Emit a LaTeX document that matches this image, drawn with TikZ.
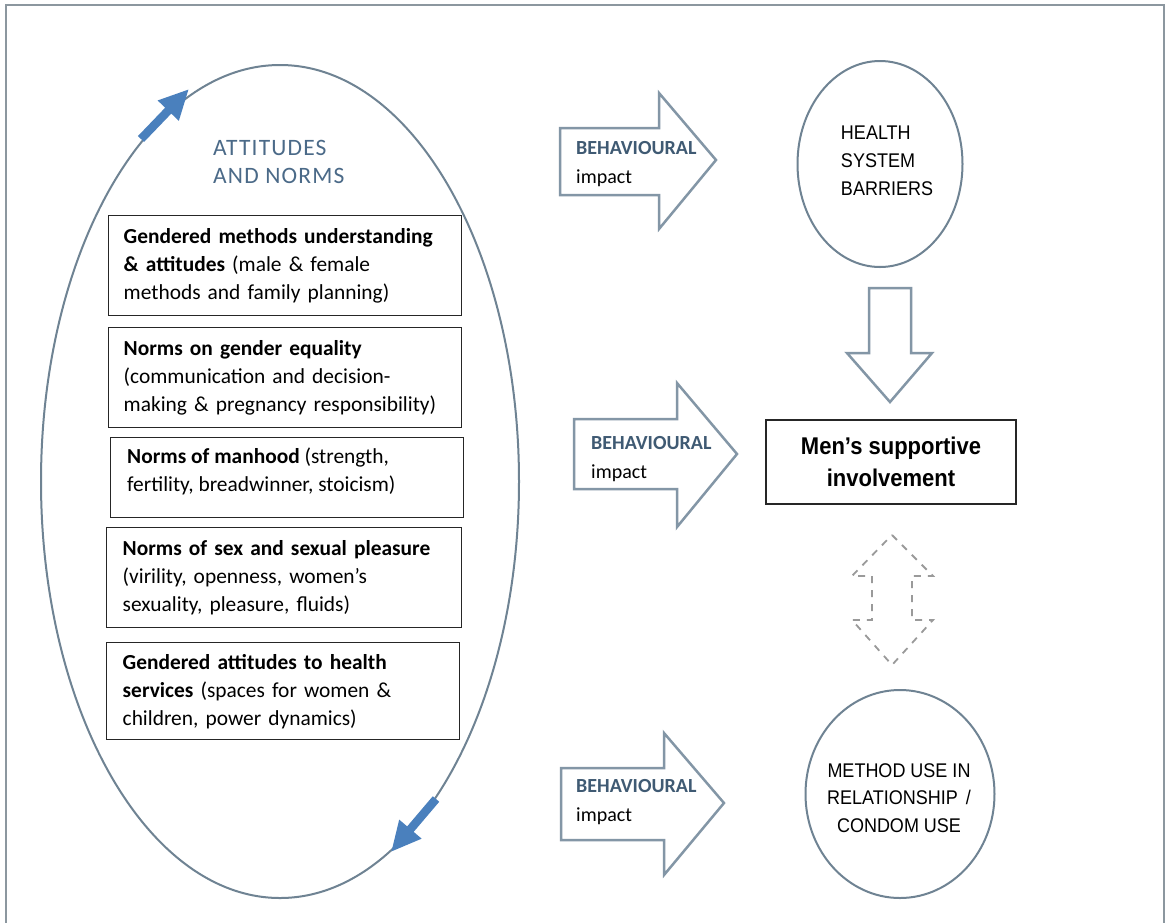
\documentclass[tikz,border=0pt]{standalone}
\usepackage{fontspec}
\setmainfont{Carlito}
\newfontfamily\arialf{Liberation Sans}
\usetikzlibrary{shapes.geometric,arrows.meta}
\definecolor{framec}{HTML}{8C979F}
\definecolor{ellc}{HTML}{6F8393}
\definecolor{blkc}{HTML}{8396A6}
\definecolor{bluec}{HTML}{4A80BD}
\definecolor{behc}{HTML}{3F5A73}
\definecolor{attc}{HTML}{4B6A88}
\definecolor{dashc}{HTML}{9A9A9A}
\newcommand{\vstretch}[1]{\scalebox{1}[1.1]{#1}}
\tikzset{
  normbox/.style={draw=black!85, line width=1.4pt, anchor=north west, inner xsep=15pt, inner ysep=0pt,
    text width=323pt, align=left, font=\fontsize{21.4pt}{28pt}\selectfont},
  blockarrow/.style={draw=blkc, line width=2.5pt, fill=white, line join=miter},
  behtext/.style={anchor=west, align=left, inner sep=0pt, font=\fontsize{20pt}{29pt}\selectfont},
  bluearrow/.style={draw=bluec, line width=8.5pt, -{Triangle[length=30pt,width=27pt]}},
  circnode/.style={ellipse, draw=ellc, line width=2pt, inner sep=0pt},
  captext/.style={align=center, inner sep=0pt, font=\arialf\fontsize{18pt}{28pt}\selectfont}
}
\begin{document}
\begin{tikzpicture}[x=1pt,y=-1pt]
\useasboundingbox (0,0) rectangle (1165,922);
\fill[white] (0,0) rectangle (1165,922);
% frame
\draw[framec, line width=2.5pt] (6,925) -- (6,5) -- (1164,5) -- (1164,925);

% big ellipse
\node[circnode, minimum width=478pt, minimum height=833pt] (cycle) at (280,481.5) {};
\coordinate (ua) at (141,139);
\coordinate (ub) at (189,89);
\coordinate (la) at (436,799);
\coordinate (lb) at (391,852);
\draw[bluearrow] (ua) -- (ub);
\draw[bluearrow] (la) -- (lb);

\node[anchor=west, align=left, inner sep=0pt, text=attc,
  font=\addfontfeature{LetterSpace=5}\fontsize{23.5pt}{28pt}\selectfont] (att) at (213,162) {ATTITUDES\\AND NORMS};

% norm boxes
\node[normbox, minimum height=100pt] (b1) at (108,215)
 {\textbf{Gendered methods understanding}\\\textbf{\& attitudes} (male \& female\\methods and family planning)};
\node[normbox, minimum height=100pt] (b2) at (108,327)
 {\textbf{Norms on gender equality}\\(communication and decision-\\making \& pregnancy responsibility)};
\node[normbox, minimum height=80pt, text width=323pt] (b3) at (110,437) {};
\node[anchor=west, align=left, inner sep=0pt, font=\fontsize{21.4pt}{28pt}\selectfont] (b3t) at (127,471)
 {\textbf{Norms of manhood} (strength,\\fertility, breadwinner, stoicism)};
\node[normbox, minimum height=100pt, inner xsep=16pt, text width=323pt] (b4) at (106,527)
 {\textbf{Norms of sex and sexual pleasure}\\(virility, openness, women’s\\sexuality, pleasure, fluids)};
\node[normbox, minimum height=97pt, inner xsep=16pt, text width=321pt] (b5) at (106,642)
 {\textbf{Gendered attitudes to health}\\\textbf{services} (spaces for women \&\\children, power dynamics)};

% block arrows
\draw[blockarrow] (560,128) -- (659,128) -- (659,93) -- (716,160) -- (659,229) -- (659,195) -- (560,195) -- cycle;
\node[behtext] (t1) at (576,164) {\textcolor{behc}{\textbf{BEHAVIOURAL}}\\impact};
\draw[blockarrow] (574,419) -- (677,419) -- (677,383) -- (737,454) -- (677,527) -- (677,489) -- (574,489) -- cycle;
\node[behtext] (t2) at (591,459) {\textcolor{behc}{\textbf{BEHAVIOURAL}}\\impact};
\draw[blockarrow] (561,768) -- (664,768) -- (664,733) -- (724,803) -- (664,875) -- (664,840) -- (561,840) -- cycle;
\node[behtext] (t3) at (576,802) {\textcolor{behc}{\textbf{BEHAVIOURAL}}\\impact};

% health system barriers
\node[circnode, minimum width=165pt, minimum height=206pt] (hsb) at (880,164) {};
\node[captext, align=left] (hsbt) at (887,161) {\vstretch{HEALTH}\\\vstretch{SYSTEM}\\\vstretch{BARRIERS}};

% down arrow
\draw[blockarrow] (869,288) -- (911,288) -- (911,353) -- (932,353) -- (890,402) -- (847,353) -- (869,353) -- cycle;

% men's supportive involvement
\node[draw=black!85, line width=1.4pt, minimum width=250pt, minimum height=84pt, align=center, inner sep=0pt,
  font=\arialf\bfseries\fontsize{22pt}{32pt}\selectfont] (men) at (891,462) {\vstretch{Men’s supportive}\\\vstretch{involvement}};

% dashed double arrow
\draw[dashc, line width=1.8pt, dash pattern=on 7pt off 7pt, fill=white] (892,535) -- (933,576) -- (912,576) -- (912,620) -- (933,620) -- (892,665) -- (852,620) -- (872,620) -- (872,576) -- (852,576) -- cycle;

% method use
\node[circnode, minimum width=189pt, minimum height=208pt] (meth) at (900,794) {};
\node[captext, font=\arialf\fontsize{18pt}{27.5pt}\selectfont] (metht) at (899,798)
 {\vstretch{METHOD USE IN}\\\vstretch{RELATIONSHIP \,/}\\\vstretch{CONDOM USE}};
\end{tikzpicture}
\end{document}
